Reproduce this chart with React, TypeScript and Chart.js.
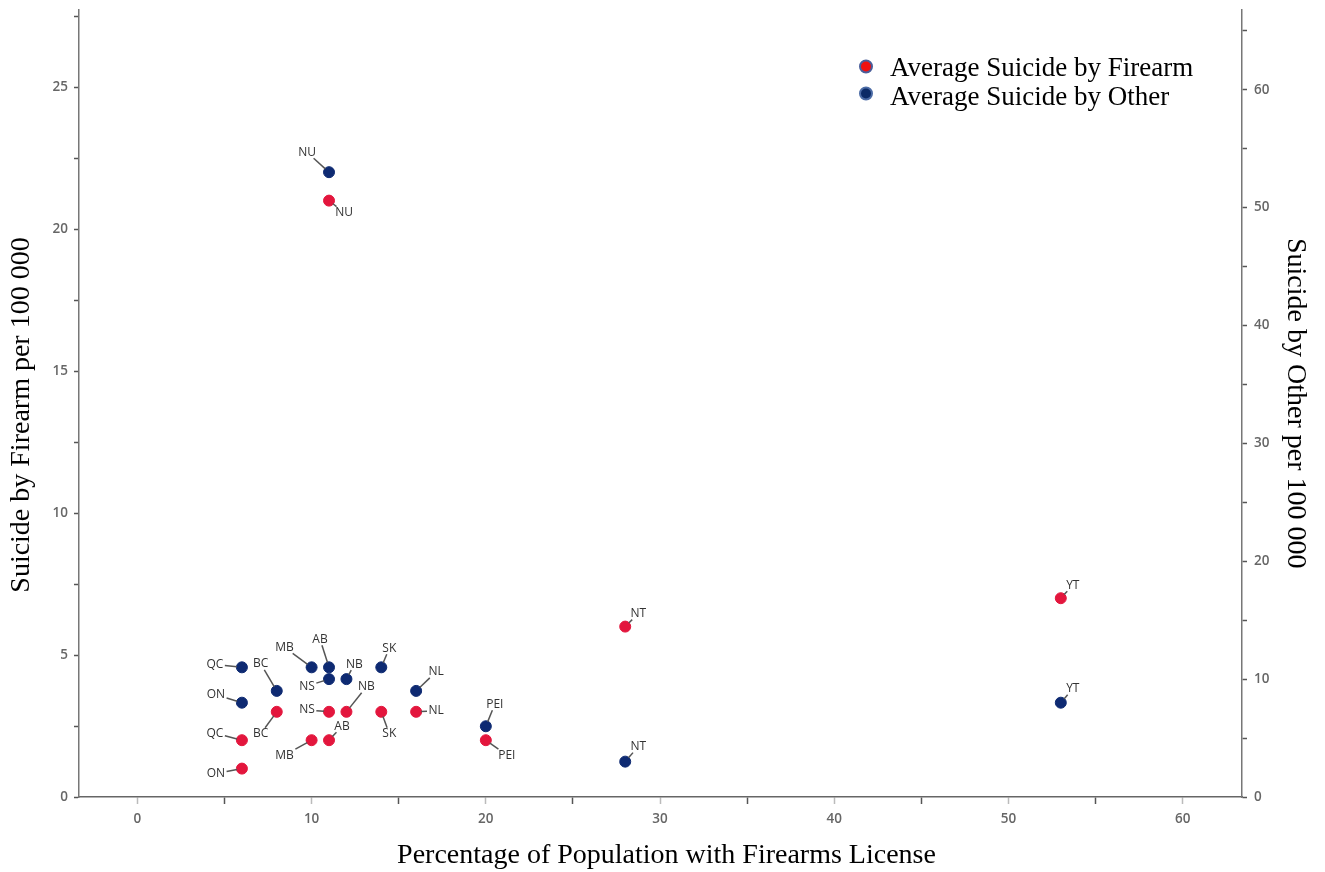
import React, { useEffect, useRef } from 'react';
import { Chart, registerables } from 'chart.js';

Chart.register(...registerables);

// ---- data ----
const provinces = ['NU', 'YT', 'NT', 'BC', 'NS', 'NB', 'SK', 'NL', 'QC', 'MB', 'AB', 'PEI', 'ON'];
const licensePct = [11, 53, 28, 8, 11, 12, 14, 16, 6, 10, 11, 20, 6];
const firearmRate = [21, 7, 6, 3, 3, 3, 3, 3, 2, 2, 2, 2, 1];
const otherRate = [53, 8, 3, 9, 10, 10, 11, 9, 11, 11, 11, 6, 8];
const seriesNames = ['Average Suicide by Firearm', 'Average Suicide by Other'];
const xTitle = 'Percentage of Population with Firearms License';
const yTitle = 'Suicide by Firearm per 100 000';
const y2Title = 'Suicide by Other per 100 000';

// ---- label placement (pixel offsets of label centre from its point) ----
const firearmLabelOffsets: Record<string, [number, number]> = {
  NU: [15, 12], YT: [12, -13], NT: [13, -13], BC: [-16, 22], NS: [-22, -2], NB: [20, -25],
  SK: [8, 22], NL: [20, -1], QC: [-27, -7], MB: [-27, 15], AB: [13, -14], PEI: [21, 15], ON: [-26, 5],
};
const otherLabelOffsets: Record<string, [number, number]> = {
  NU: [-22, -20], YT: [12, -14], NT: [13, -15], BC: [-16, -27], NS: [-22, 7], NB: [8, -15],
  SK: [8, -19], NL: [20, -19], QC: [-27, -3], MB: [-27, -20], AB: [-9, -28], PEI: [9, -22], ON: [-26, -8],
};

const RED = '#E3163D';
const NAVY = '#0E2A72';
const TICK_FONT = { family: "'Open Sans', sans-serif", size: 13.5, weight: 600 as any };
const SERIF = "'Liberation Serif', 'Times New Roman', serif";
const TITLE_FONT = { family: SERIF, size: 28 };

const labelPlugin = {
  id: 'pointLabels',
  afterDatasetsDraw(chart: any) {
    const ctx = chart.ctx;
    ctx.save();
    ctx.font = "12px 'Open Sans', sans-serif";
    ctx.textAlign = 'center';
    ctx.textBaseline = 'middle';
    chart.data.datasets.forEach((ds: any, di: number) => {
      const meta = chart.getDatasetMeta(di);
      const offsets = di === 0 ? firearmLabelOffsets : otherLabelOffsets;
      meta.data.forEach((el: any, i: number) => {
        const name = provinces[i];
        const off = offsets[name];
        if (!off) return;
        const [dx, dy] = off;
        const px = el.x, py = el.y;
        const w = ctx.measureText(name).width;
        const hw = w / 2 + 1.5, hh = 6;
        const len = Math.hypot(dx, dy);
        const t0 = 5 / len;
        const tx = Math.abs(dx) > 0.01 ? hw / Math.abs(dx) : Infinity;
        const ty = Math.abs(dy) > 0.01 ? hh / Math.abs(dy) : Infinity;
        const t1 = 1 - Math.min(tx, ty);
        if (t1 > t0) {
          ctx.strokeStyle = '#555';
          ctx.lineWidth = 1.5;
          ctx.beginPath();
          ctx.moveTo(px + dx * t0, py + dy * t0);
          ctx.lineTo(px + dx * t1, py + dy * t1);
          ctx.stroke();
        }
        ctx.fillStyle = '#333';
        ctx.fillText(name, px + dx, py + dy);
      });
    });
    ctx.restore();
  },
};

const legendPlugin = {
  id: 'customLegend',
  afterDraw(chart: any) {
    const ctx = chart.ctx;
    const area = chart.chartArea;
    const cx = area.right - 376;
    const rows = [
      { fill: '#F01010', stroke: '#4A5E9A', cy: area.top + 57, base: area.top + 66, text: seriesNames[0] },
      { fill: '#0B2A66', stroke: '#4C6CA6', cy: area.top + 84, base: area.top + 95, text: seriesNames[1] },
    ];
    ctx.save();
    ctx.font = `27px ${SERIF}`;
    ctx.textAlign = 'left';
    ctx.textBaseline = 'alphabetic';
    rows.forEach((r) => {
      ctx.beginPath();
      ctx.arc(cx, r.cy, 6, 0, Math.PI * 2);
      ctx.fillStyle = r.fill;
      ctx.fill();
      ctx.lineWidth = 2;
      ctx.strokeStyle = r.stroke;
      ctx.stroke();
      ctx.fillStyle = '#000';
      ctx.fillText(r.text, cx + 24, r.base);
    });
    // x axis title
    ctx.font = `28px ${SERIF}`;
    ctx.textAlign = 'center';
    ctx.textBaseline = 'middle';
    ctx.fillText(xTitle, (area.left + area.right) / 2 + 6, 856);
    // left axis title
    ctx.translate(22, 415);
    ctx.rotate(-Math.PI / 2);
    ctx.fillText(yTitle, 0, 0);
    ctx.restore();
  },
};

const noPad = (s: any) => { s.paddingTop = 0; s.paddingBottom = 0; };

export default function App() {
  const canvasRef = useRef<HTMLCanvasElement>(null);

  useEffect(() => {
    document.body.style.margin = '0';
    const canvas = canvasRef.current;
    if (!canvas) return;
    const chart = new Chart(canvas, {
      type: 'scatter',
      data: {
        datasets: [
          {
            label: seriesNames[0],
            data: provinces.map((_, i) => ({ x: licensePct[i], y: firearmRate[i] })),
            backgroundColor: RED,
            borderColor: RED,
            pointRadius: 5.5,
            yAxisID: 'y',
          },
          {
            label: seriesNames[1],
            data: provinces.map((_, i) => ({ x: licensePct[i], y: otherRate[i] })),
            backgroundColor: NAVY,
            borderColor: NAVY,
            pointRadius: 5.5,
            yAxisID: 'y2',
          },
        ],
      },
      options: {
        responsive: false,
        animation: false,
        layout: { padding: { top: 9.5, left: 0, right: 0, bottom: 0 } },
        plugins: { legend: { display: false }, tooltip: { enabled: false } },
        scales: {
          x: {
            type: 'linear',
            min: -3.35,
            max: 63.4,
            ticks: {
              stepSize: 5,
              includeBounds: false,
              autoSkip: false,
              maxRotation: 0,
              padding: 7,
              color: '#666',
              font: TICK_FONT,
              callback: (v: any) => (Number(v) % 10 === 0 ? String(v) : ''),
            },
            grid: {
              drawOnChartArea: false,
              drawTicks: true,
              tickLength: 7,
              tickWidth: 1.5,
              tickColor: (c: any) => (c.tick && c.tick.value % 10 === 0 ? '#bbb' : '#555'),
            },
            border: { display: true, color: '#666', width: 1.5 },
            title: { display: false },
            afterFit: (s: any) => { s.height = 75; s.paddingLeft = 0; s.paddingRight = 0; },
          },
          y: {
            type: 'linear',
            position: 'left',
            min: 0,
            max: 27.73,
            ticks: {
              stepSize: 2.5,
              includeBounds: false,
              autoSkip: false,
              padding: 6,
              color: '#666',
              font: TICK_FONT,
              callback: (v: any) => (Math.abs(Number(v) % 5) < 1e-6 ? String(v) : ''),
            },
            grid: {
              drawOnChartArea: false,
              drawTicks: true,
              tickLength: 5,
              tickWidth: 1.5,
              tickColor: '#555',
            },
            border: { display: true, color: '#777', width: 1.5 },
            title: { display: false },
            afterFit: (s: any) => { s.width = 79; noPad(s); },
          },
          y2: {
            type: 'linear',
            position: 'right',
            min: 0,
            max: 66.8,
            ticks: {
              stepSize: 5,
              includeBounds: false,
              autoSkip: false,
              padding: 7,
              color: '#666',
              font: TICK_FONT,
              callback: (v: any) => (Math.abs(Number(v) % 10) < 1e-6 ? String(v) : ''),
            },
            grid: {
              drawOnChartArea: false,
              drawTicks: true,
              tickLength: 5,
              tickWidth: 1.5,
              tickColor: '#555',
            },
            border: { display: true, color: '#777', width: 1.5 },
            title: {
              display: true,
              text: y2Title,
              color: '#000',
              font: TITLE_FONT,
              padding: { top: 13, bottom: 0 },
            },
            afterFit: (s: any) => { s.width = 83; noPad(s); },
          },
        },
      },
      plugins: [labelPlugin, legendPlugin],
    } as any);
    return () => chart.destroy();
  }, []);

  return (
    <div style={{ width: 1325, height: 872 }}>
      <canvas ref={canvasRef} width={1325} height={872} />
    </div>
  );
}
